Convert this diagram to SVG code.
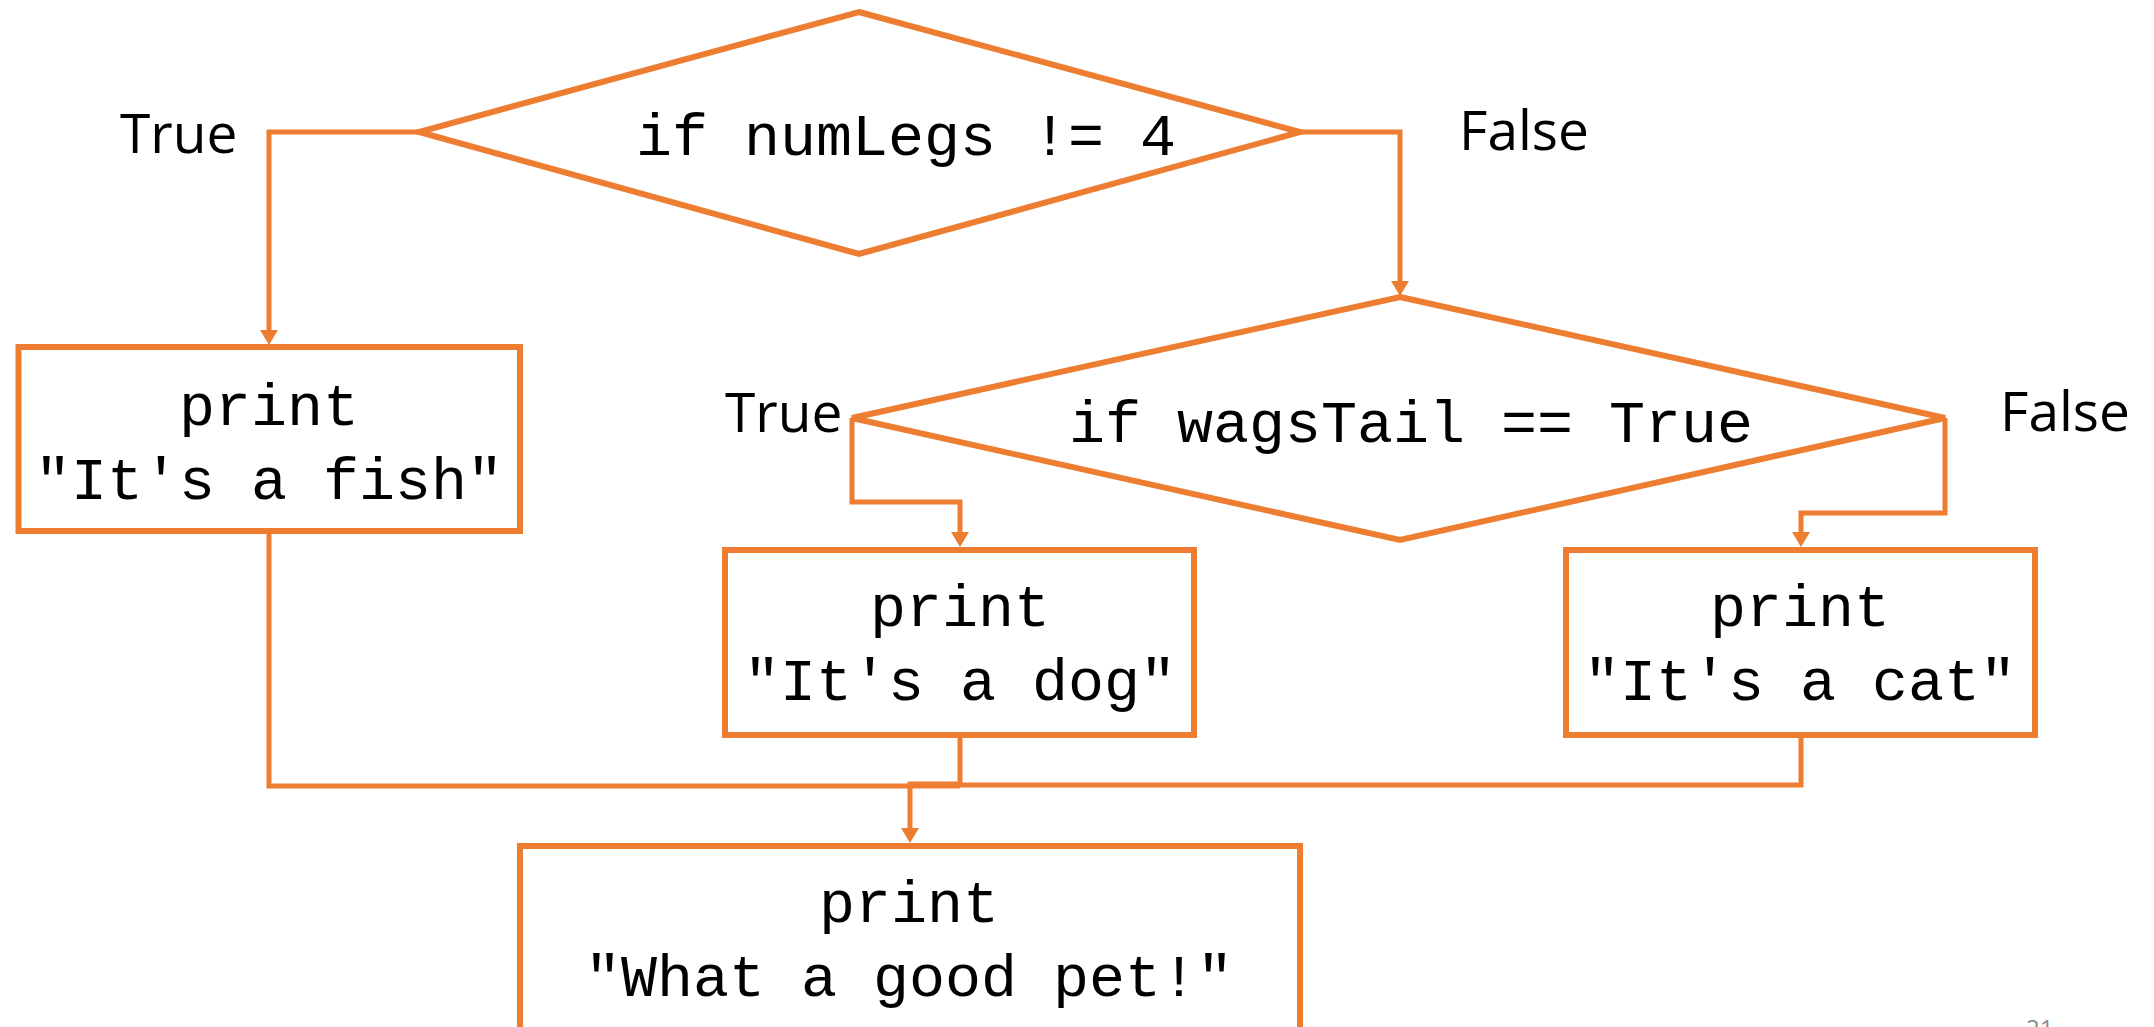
<svg xmlns="http://www.w3.org/2000/svg" width="2154" height="1027" viewBox="0 0 2154 1027">
<style>
.shape{fill:#ffffff;stroke:#ED7D31;stroke-width:6;stroke-linejoin:miter}
.conn{fill:none;stroke:#ED7D31;stroke-width:5;stroke-linejoin:miter}
.code{font-family:"Liberation Mono","DejaVu Sans Mono",monospace;font-size:60px;fill:#000000}
.lbl{font-family:"Open Sans","Noto Sans",sans-serif;font-size:55px;fill:#000000}
.pg{font-family:"Open Sans","Liberation Sans",sans-serif;font-size:24px;fill:#8a8a8a}
</style>
<defs>
<marker id="arr" markerUnits="userSpaceOnUse" markerWidth="15" markerHeight="18" viewBox="0 0 15 18" refX="9" refY="9" orient="auto">
<path d="M0,0 L15,9 L0,18 z" fill="#ED7D31"/>
</marker>
</defs>
<rect x="0" y="0" width="2154" height="1027" fill="#ffffff"/>
<g id="connectors">
<path class="conn" d="M419 132 H269 V339" marker-end="url(#arr)"/>
<path class="conn" d="M1300 132 H1400 V290" marker-end="url(#arr)"/>
<path class="conn" d="M852 418 V502 H960 V541" marker-end="url(#arr)"/>
<path class="conn" d="M1945 418 V513 H1801 V541" marker-end="url(#arr)"/>
<path class="conn" d="M269 531 V786 H960"/>
<path class="conn" d="M960 735 V784 H910 V837" marker-end="url(#arr)"/>
<path class="conn" d="M1801 735 V785 H960"/>
</g>
<g id="decision1">
<polygon class="shape" points="859,12 1300,132 859,254 419,132"/>
<text class="code" x="906" y="155" text-anchor="middle">if numLegs != 4</text>
</g>
<g id="decision2">
<polygon class="shape" points="1400,297 1945,418 1400,540 852,418"/>
<text class="code" x="1411" y="442" text-anchor="middle">if wagsTail == True</text>
</g>
<g id="fish">
<rect class="shape" x="18.5" y="347" width="501.5" height="184"/>
<text class="code" x="269" y="425" text-anchor="middle">print</text>
<text class="code" x="269" y="499" text-anchor="middle">"It's a fish"</text>
</g>
<g id="dog">
<rect class="shape" x="725" y="550" width="469" height="185"/>
<text class="code" x="960" y="626" text-anchor="middle">print</text>
<text class="code" x="960" y="700" text-anchor="middle">"It's a dog"</text>
</g>
<g id="cat">
<rect class="shape" x="1566" y="550" width="469" height="185"/>
<text class="code" x="1800" y="626" text-anchor="middle">print</text>
<text class="code" x="1800" y="700" text-anchor="middle">"It's a cat"</text>
</g>
<g id="pet">
<rect class="shape" x="520" y="846" width="780" height="220"/>
<text class="code" x="909" y="922" text-anchor="middle">print</text>
<text class="code" x="909" y="996" text-anchor="middle">"What a good pet!"</text>
</g>
<g id="labels">
<text class="lbl" x="120" y="153">True</text>
<text class="lbl" x="1459" y="150">False</text>
<text class="lbl" x="725" y="432">True</text>
<text class="lbl" x="2000" y="431">False</text>
<text class="pg" x="2026" y="1037">21</text>
</g>
</svg>
